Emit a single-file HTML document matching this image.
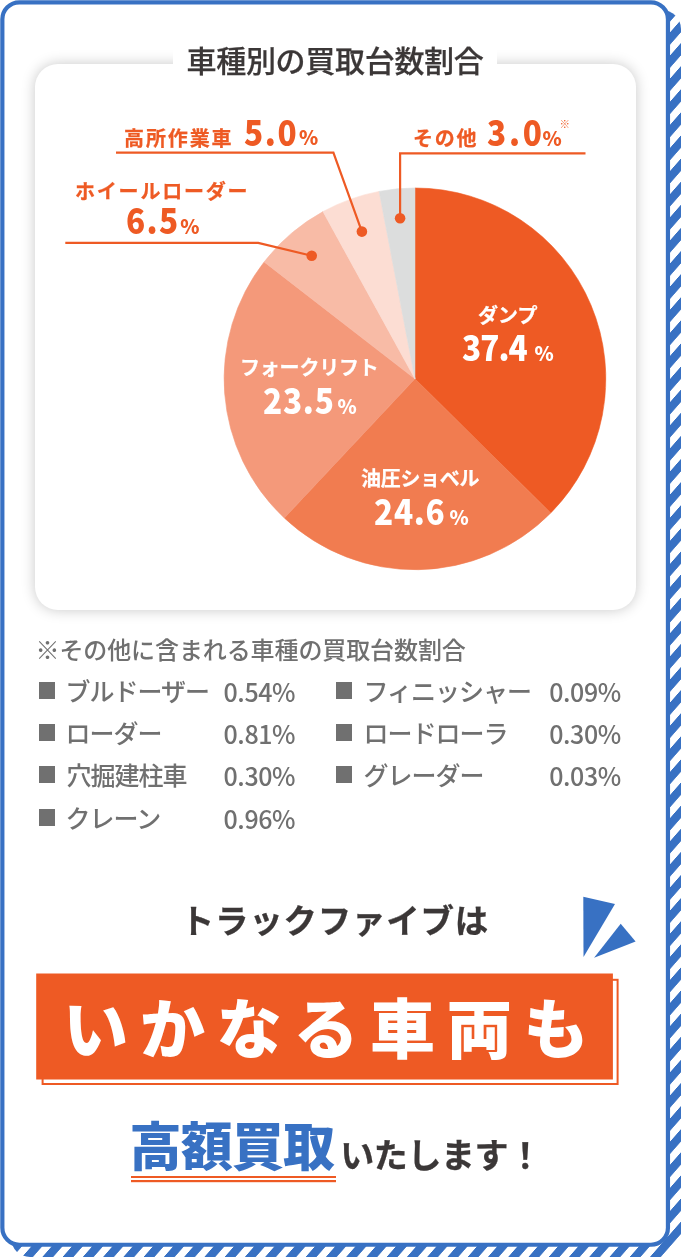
<!DOCTYPE html>
<html lang="ja">
<head>
<meta charset="utf-8">
<title>車種別の買取台数割合</title>
<style>
html,body{margin:0;padding:0;background:#fff;}
body{width:681px;height:1257px;position:relative;overflow:hidden;
  font-family:"Noto Sans CJK JP","Liberation Sans",sans-serif;color:#333;}
#bg{position:absolute;left:0;top:0;width:681px;height:1257px;display:block;}
.t{position:absolute;white-space:nowrap;line-height:1;margin:0;padding:0;}
#card{position:absolute;left:35px;top:64px;width:601px;height:546px;border-radius:23px;background:#fff;
  box-shadow:0 0 14px rgba(0,0,0,0.22);}
#title{left:173px;top:36.2px;width:324px;height:46px;background:#fff;text-align:center;
  font-size:30px;font-weight:500;letter-spacing:-0.3px;line-height:46px;color:#3B3737;-webkit-text-stroke:0.25px #3B3737;}
#chart{position:absolute;left:0;top:0;width:681px;height:1257px;display:block;}
.o{color:#EE5A24;font-weight:700;}
.w{color:#fff;font-weight:700;}
.lab{font-size:20px;letter-spacing:1.9px;}
.num{font-size:35px;letter-spacing:1px;font-weight:900;transform:scaleX(0.9);transform-origin:0 50%;}
.lab{-webkit-text-stroke:0.25px currentColor;}
.pct{font-size:19.5px;font-weight:900;}
.g{color:#707070;font-size:25px;letter-spacing:0px;font-weight:500;}
.n1{letter-spacing:-1px;}
.n2{letter-spacing:-0.4px;}
.sq{position:absolute;width:16px;height:16.4px;background:#707070;}
</style>
</head>
<body>
<svg id="bg" width="681" height="1257" viewBox="0 0 681 1257">
  <defs>
    <pattern id="st" width="800" height="23.11" patternUnits="userSpaceOnUse" patternTransform="matrix(1 -1.141 0 1 0 11.1)">
      <rect x="0" y="0" width="800" height="12.4" fill="#3871C3"/>
    </pattern>
  </defs>
  <rect x="11" y="10" width="670" height="1247" rx="19" fill="url(#st)"/>
  <path d="M667.5 1258L682 1241.5V1258Z" fill="#fff"/>
  <rect x="2.35" y="2.3" width="665.6" height="1242.45" rx="17" fill="#fff" stroke="#3871C3" stroke-width="4.2"/>
</svg>
<div id="card"></div>
<div class="t" id="title">車種別の買取台数割合</div>
<svg id="chart" width="681" height="1257" viewBox="0 0 681 1257">
<path d="M414.95 378.85L414.95 188.00A190.85 190.85 0 0 1 550.75 512.95Z" fill="#EE5A24" stroke="#EE5A24" stroke-width="0.6"/>
<path d="M414.95 378.85L550.75 512.95A190.85 190.85 0 0 1 284.30 517.97Z" fill="#F17C50" stroke="#F17C50" stroke-width="0.6"/>
<path d="M414.95 378.85L284.30 517.97A190.85 190.85 0 0 1 264.15 261.88Z" fill="#F4997A" stroke="#F4997A" stroke-width="0.6"/>
<path d="M414.95 378.85L264.15 261.88A190.85 190.85 0 0 1 323.01 211.61Z" fill="#F8BBA6" stroke="#F8BBA6" stroke-width="0.6"/>
<path d="M414.95 378.85L323.01 211.61A190.85 190.85 0 0 1 379.19 191.38Z" fill="#FCDDD3" stroke="#FCDDD3" stroke-width="0.6"/>
<path d="M414.95 378.85L379.19 191.38A190.85 190.85 0 0 1 414.95 188.00Z" fill="#DCDDDD" stroke="#DCDDDD" stroke-width="0.6"/>
<g fill="none" stroke="#EE5A24" stroke-width="2.2" stroke-linejoin="miter">
  <path d="M116 152.7H333.4L361.9 231.6"/>
  <path d="M65.3 242.9H258.2L311.7 255.7"/>
  <path d="M585.5 153.3H400.1V218.2"/>
</g>
<g fill="#EE5A24">
  <circle cx="361.9" cy="231.6" r="5.3"/>
  <circle cx="311.7" cy="255.7" r="5.3"/>
  <circle cx="400.1" cy="218.2" r="5.3"/>
</g>
<g fill="#3871C3">
  <path d="M583.3 896.8L615 904.1L583.5 956.9Z"/>
  <path d="M620.7 923.8L635.6 941.4L594.1 957.8Z"/>
</g>
<g fill="#EE5A24">
  <rect x="42.6" y="979.8" width="575" height="104.2" fill="#fff" stroke="#EE5A24" stroke-width="2"/>
  <rect x="36.2" y="973.5" width="576.7" height="106" />
  <rect x="131" y="1176" width="205" height="2"/>
  <rect x="131" y="1180" width="205" height="2.2"/>
</g>
</svg>

<div class="t o lab" style="left:124px;top:128px;">高所作業車</div>
<div class="t o num" style="left:244px;top:112.7px;letter-spacing:1.85px;">5.0</div>
<div class="t o pct" style="left:299px;top:127px;">%</div>

<div class="t o lab" style="left:75px;top:181px;letter-spacing:1.8px;">ホイールローダー</div>
<div class="t o num" style="left:125.5px;top:201.1px;letter-spacing:1.55px;">6.5</div>
<div class="t o pct" style="left:180.3px;top:216px;">%</div>

<div class="t o lab" style="left:413px;top:128px;letter-spacing:1.8px;">その他</div>
<div class="t o num" style="left:487.3px;top:113px;letter-spacing:3px;">3.0</div>
<div class="t o pct" style="left:542.5px;top:128px;">%</div>
<div class="t o" style="left:559.5px;top:118.5px;font-size:10.5px;font-weight:900;">※</div>

<div class="t w lab" style="left:478px;top:304.5px;letter-spacing:0px;">ダンプ</div>
<div class="t w num" style="left:462px;top:327.7px;font-size:35px;letter-spacing:-1.1px;">37.4</div>
<div class="t w pct" style="left:534.6px;top:342.7px;">%</div>

<div class="t w lab" style="left:240px;top:356.5px;letter-spacing:-0.2px;">フォークリフト</div>
<div class="t w num" style="left:262.6px;top:380.8px;font-size:35px;letter-spacing:0.83px;">23.5</div>
<div class="t w pct" style="left:337.6px;top:395.6px;">%</div>

<div class="t w lab" style="left:361px;top:467.7px;letter-spacing:-0.3px;">油圧ショベル</div>
<div class="t w num" style="left:373.9px;top:491.6px;font-size:35px;letter-spacing:0.8px;">24.6</div>
<div class="t w pct" style="left:449.5px;top:506.6px;">%</div>

<div class="t g" style="left:35.5px;top:636.5px;font-size:24px;letter-spacing:-0.1px;font-weight:500;">※その他に含まれる車種の買取台数割合</div>

<div class="sq" style="left:39px;top:682.2px;"></div>
<div class="t g n1" style="left:65.5px;top:678px;">ブルドーザー</div>
<div class="t g n2" style="left:223.5px;top:678.5px;">0.54%</div>
<div class="sq" style="left:39px;top:724.2px;"></div>
<div class="t g n1" style="left:65.5px;top:720px;">ローダー</div>
<div class="t g n2" style="left:223.5px;top:720.5px;">0.81%</div>
<div class="sq" style="left:39px;top:766.2px;"></div>
<div class="t g n1" style="left:66.5px;top:762px;">穴掘建柱車</div>
<div class="t g n2" style="left:223.5px;top:762.5px;">0.30%</div>
<div class="sq" style="left:39px;top:809.2px;"></div>
<div class="t g n1" style="left:65.5px;top:805px;">クレーン</div>
<div class="t g n2" style="left:223.5px;top:805.5px;">0.96%</div>

<div class="sq" style="left:336px;top:682.2px;"></div>
<div class="t g n1" style="left:363.5px;top:678px;">フィニッシャー</div>
<div class="t g n2" style="left:549.2px;top:678.5px;">0.09%</div>
<div class="sq" style="left:336px;top:724.2px;"></div>
<div class="t g n1" style="left:363.5px;top:720px;">ロードローラ</div>
<div class="t g n2" style="left:549.2px;top:720.5px;">0.30%</div>
<div class="sq" style="left:336px;top:766.2px;"></div>
<div class="t g n1" style="left:363.5px;top:762px;">グレーダー</div>
<div class="t g n2" style="left:549.2px;top:762.5px;">0.03%</div>

<div class="t" style="left:180.8px;top:902.2px;font-size:33.5px;font-weight:700;letter-spacing:0.75px;color:#3B3737;-webkit-text-stroke:0.3px #3B3737;">トラックファイブは</div>
<div class="t" style="left:63.3px;top:992.5px;font-size:65px;font-weight:900;letter-spacing:11.7px;color:#fff;">いかなる車両も</div>
<div class="t" style="left:129.5px;top:1118px;font-size:52px;font-weight:900;letter-spacing:-0.8px;color:#3871C3;">高額買取</div>
<div class="t" style="left:340.2px;top:1137.2px;font-size:34px;font-weight:700;letter-spacing:-0.4px;color:#3B3737;-webkit-text-stroke:0.3px #3B3737;">いたします！</div>
</body>
</html>
